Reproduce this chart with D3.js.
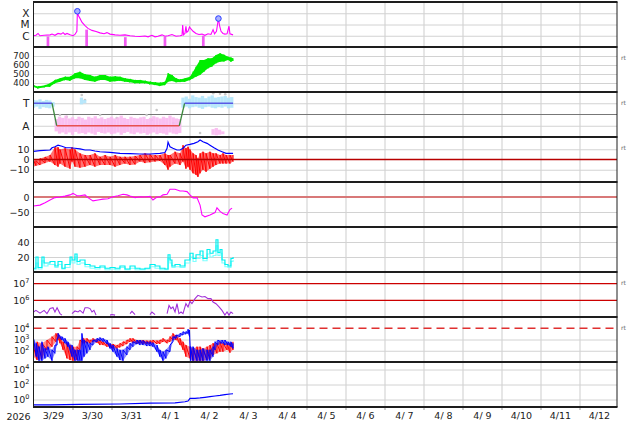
<!DOCTYPE html>
<html><head><meta charset="utf-8">
<script src="https://cdn.jsdelivr.net/npm/d3@7"></script>
<style>
html,body{margin:0;padding:0;background:#fff;}
svg{display:block;font-family:"DejaVu Sans",sans-serif;}
text{white-space:pre;}
</style></head><body>
<svg id="c" width="634" height="424"></svg>
<script>
// ---------- time axis ----------
const dayStartHours = [24,48,72,96,120,144,168,192,216,240,264,288,312,336];
const dayLabels = ["3/29","3/30","3/31","4/ 1","4/ 2","4/ 3","4/ 4","4/ 5","4/ 6","4/ 7","4/ 8","4/ 9","4/10","4/11","4/12"];
const yearLabel = "2026";

// ---------- panel 1 : X-ray flux ----------
const xrayHours = [0,1.5,2.8,4,6.5,10.2,11.4,13.2,15.1,16.9,18.2,19.4,20.6,22.5,24.3,25.5,26.7,27,27.7,28.6,29.8,31.7,33.5,36,38.5,40.9,43.4,45.2,47.1,50.2,53.2,56.3,59.4,62.5,65.5,68.6,70.5,72.9,74.8,76.6,79.1,80.9,82.8,85.2,87.7,90.2,91.4,91.8,92.3,93.2,93.8,94.3,95.1,96,96.9,98.2,100,101.8,103.7,105.5,107.4,109.2,110.5,111.4,112.6,113.8,114.5,115.4,116.6,117.8,119.1,120.3,120.9,122.8];
const xrayFlux = [1.0e-6,1.1e-6,1.6e-6,1.0e-6,1.1e-6,1.2e-6,1.4e-6,1.1e-6,1.6e-6,1.4e-6,1.9e-6,1.3e-6,1.6e-6,1.2e-6,1.0e-6,1.3e-6,2.5e-6,1.5e-4,6e-5,3.5e-5,1.6e-5,8e-6,4.5e-6,3e-6,2.4e-6,1.8e-6,1.5e-6,1.9e-6,1.4e-6,1.2e-6,1.1e-6,1.2e-6,1.0e-6,9e-7,8.5e-7,9.5e-7,8e-7,1.1e-6,8e-7,9e-7,1.2e-6,9e-7,1.0e-6,1.3e-6,9e-7,1.0e-6,1.1e-6,9e-6,1.2e-6,1.6e-6,7e-6,2e-6,2.5e-6,6e-6,4e-6,2.5e-6,1.6e-6,1.3e-6,1.4e-6,1.1e-6,1.5e-6,1.3e-6,3.5e-6,1.5e-6,2.5e-6,3.4e-5,8e-6,2.5e-6,1.6e-6,1.4e-6,1.5e-6,7e-6,1.5e-6,1.2e-6];
const xrayDropHours = [8.9,32.7,56.5,80.9,104.5];
const xrayDropTop = [8.6e-7,3.5e-6,7.5e-7,8e-7,1.0e-6];
const flareHours = [27,113.8];
const flareFlux = [1.5e-4,3.4e-5];
const xrayTickVals = [1e-4,1e-5,1e-6];
const xrayTickLabels = ["X","M","C"];

// ---------- panel 2 : solar wind speed ----------
const swHours = [0,2.8,7.1,10.2,13.2,16.3,19.4,22.5,25.5,28.6,31.7,34.8,37.8,40.9,44,47.1,50.2,53.2,56.3,59.4,62.5,65.5,68.6,71.7,74.8,77.8,80.9,82.8,85.2,87.7,90.2,93.2,96.3,98.2,100,102.5,104.9,107.4,109.8,112.3,114.8,117.2,119.7,121.5,122.8];
const swLo = [355,340,355,360,397,415,433,425,452,452,433,422,415,433,433,415,420,425,415,408,397,397,397,385,378,367,378,415,422,408,410,415,433,452,470,489,525,563,582,619,637,640,655,637,648];
const swHi = [375,360,375,397,433,452,470,470,508,525,497,489,470,489,489,470,475,470,452,445,433,433,425,415,408,403,415,508,489,452,440,452,470,525,580,655,655,674,674,711,730,715,692,683,674];
const swTicks = [400,500,600,700];

// ---------- panel 3 : IMF sector ----------
const sectorBinHours = [0,2,4,6,8,10,12,14,16,18,20,22,24,26,28,30,32,34,36,38,40,42,44,46,48,50,52,54,56,58,60,62,64,66,68,70,72,74,76,78,80,82,84,86,88,90,92,94,96,98,100,102,104,106,108,110,112,114,116,118,120,122];
const sectorLo = [0.6,0.7,0.5,0.65,0.6,0.55,0.7,-1.5,-1.7,-1.6,-1.75,-1.6,-1.8,-1.55,-1.7,-1.65,-1.75,-1.6,-1.7,-1.8,-1.55,-1.65,-1.7,-1.6,-1.75,-1.7,-1.6,-1.8,-1.65,-1.55,-1.7,-1.75,-1.6,-1.7,-1.65,-1.8,-1.7,-1.6,-1.75,-1.65,-1.7,-1.8,-1.6,-1.7,-1.75,-1.65,0.6,0.7,0.55,0.65,0.7,0.6,0.5,0.65,0.7,0.6,0.55,0.65,0.6,0.7,0.55,0.6];
const sectorHi = [1.3,1.25,1.35,1.2,1.3,1.25,1.1,-0.4,-0.2,-0.3,-0.1,-0.35,-0.25,-0.4,-0.2,-0.3,-0.45,-0.2,-0.3,-0.15,-0.35,-0.25,-0.4,-0.3,-0.2,-0.35,-0.25,-0.1,-0.3,-0.4,-0.2,-0.3,-0.35,-0.25,-0.2,-0.4,-0.3,-0.15,-0.25,-0.35,-0.2,-0.3,-0.1,-0.25,-0.35,-0.4,1.5,1.6,1.4,1.7,1.55,1.5,1.65,1.45,1.6,1.7,1.5,1.55,1.6,1.65,1.5,1.55];
const awayExtraHours = [110.5,112.5,114.5,116.5];
const awayExtraLo = [-1.8,-1.85,-1.8,-1.75];
const awayExtraHi = [-1.3,-1.2,-1.35,-1.5];
const towardExtraHours = [29.5,31.5];
const towardExtraLo = [0.9,1.0];
const towardExtraHi = [1.5,1.3];
const grayHours = [16.3,20.4,26.6,29.7,31.7,41,51.2,69.6,72.7,75.8,86,102.5,110.6,114.8,118];
const grayVals = [-0.04,-0.2,-0.49,1.73,1.29,-0.04,-0.31,-0.04,-0.49,0.4,-0.76,-1.64,1.9,1.85,1.8];
const sectorLineHours = [0,11.4,14.3,89.7,93,122.8];
const sectorLineVals = [1,1,-1,-1,1,1];
const sectorTickVals = [1,-1];
const sectorTickLabels = ["T","A"];

// ---------- panel 4 : IMF Bt / Bz ----------
const btHours = [0,4,10.2,11.4,13.2,15.1,17.5,20,22.5,25.5,28.6,31.7,34.8,37.8,40.9,47.1,53.2,59.4,65.5,71.7,77.8,80.9,82.2,82.8,84,85.8,88.3,90.2,92,93.8,96.3,98.8,101.2,102.5,104.3,106.8,108.6,111.1,113.5,116,118.5,120.9,122.8];
const btVals = [8,8.6,9.3,11.5,12.5,14,13,11.5,11.5,11,10.3,9.3,9.3,8.3,7.6,7,6,5.7,5.4,5.4,6,6.8,11,17,12.5,11,9.3,9.3,11,14,14.8,15.8,17.4,19,17.4,15.8,14,11.5,9.3,7.6,6,6,6];
const bzHours = [0,1.5,4,7.1,10.2,13.2,15.1,16.3,19.4,22.5,23.7,25.5,28.6,31.7,34.8,37.8,40.9,44,47.1,50.2,53.2,56.3,59.4,62.5,65.5,68.6,71.7,74.8,77.8,80.9,82.8,84,87.1,90.2,92,93.8,95.1,96.3,98.2,100,101.2,102.5,104.3,106.2,108.6,110.5,112.3,114.8,116.6,118.5,120.9,122.8];
const bzLo = [-7,-6,-5.4,-3.5,-2,-5.4,-7,-4,-7,-9,-2,-7,-8,-7,-5.4,-7,-5.4,-5.4,-5.4,-7,-5.4,-4,-5.4,-4.8,-2,-3.5,-2.7,-2,-1.4,-5.4,-10,-7,-4,-5.4,-2,-9,-7,-10,-13.5,-15,-17,-13.5,-10,-12,-9,-7,-5.4,-4,-4,-4,-4,-2];
const bzHi = [-0.5,-1,1,2.5,4.4,12,12,9.8,11,9.8,12,9.8,6,4.4,4.4,6,2.7,4.4,2.7,4.4,2.7,2.7,2.7,3.5,4.4,6,5,4.4,4.4,6,4.4,4.4,7.6,6,14,11,12.5,9.8,6,4.4,1,6,7.6,6,7.6,6,6,4.4,6,4.4,4.4,4.4];
const imfTicks = [10,0,-10];

// ---------- panel 5 : Dst ----------
const dstHours = [0,4,7.1,10.2,13.2,16.3,19.4,22.5,24.3,26.8,28.6,31.7,33.5,36.6,39.7,42.8,45.8,48.9,52,55.1,57.5,59.4,62.5,65.5,68.6,71.7,73.5,76,77.8,79.7,82.2,84,87.1,90.2,92,94.5,96.3,98.2,100.6,102.5,103.7,105.5,108.6,111.7,112.9,114.8,116.6,119.1,120.9,122.2];
const dstVals = [-30,-27,-19,-10,-2,0,3,7,12,4,4,7,-2,-13,-10,-7,-6,1,4,9,7,3,-2,1,0,2,-10,0,0,7,9,26,26,20,20,18,7,-3,-2,-27,-60,-66,-60,-52,-36,-48,-55,-60,-42,-37];
const dstTicks = [0,-50];

// ---------- panel 6 : cyan index ----------
const cyanHours = [0,1.5,2.8,5.2,6.5,8.9,10.2,13.2,15.1,17.5,19.4,22.5,23.7,25.5,26.8,28.6,31.7,34.8,37.8,40.9,44,47.1,50.2,53.2,56.3,59.4,62.5,65.5,68.6,71.7,74.8,77.8,80.9,82.8,84,85.2,87.1,90.2,93.2,96.3,98.2,100,102.5,104.3,106.8,108.6,110.5,112.3,113.5,114.8,116,117.8,119.7,121.5,122.8];
const cyanA = [5,20,6,20,12,12,14,8,14,5,10,20,16,24,14,16,10,8,6,8,5,6,5,8,4,8,5,4,5,10,8,5,4,23,16,8,10,8,16,25,18,23,28,18,30,25,28,43,26,30,16,10,8,18,20];
const cyanB = [3,12,4,15,8,10,10,6,10,4,6,15,12,20,10,12,7,5,4,6,3,4,3,6,3,5,3,3,4,7,5,3,3,18,12,6,7,6,12,20,14,18,22,15,24,20,22,35,22,25,12,7,6,14,16];
const cyanTicks = [20,40];

// ---------- panel 7 : purple flux ----------
const p7Hours = [0,1.5,4,6.5,8.3,10.2,12,13.2,14.5,16.3,17.5,20,23.7,25.5,27.4,28.6,30.5,31.7,33.5,34.8,36,37.2,38.5,43,47.1,48.3,50.2,55,59.4,60.6,62.5,67,71.7,72.9,74.8,79,82.2,83.4,84.6,85.8,87.1,88.3,89.5,90.8,92,93.8,95.1,96.3,97.5,99.4,101.2,103.7,105.5,107.4,109.2,110.5,112.3,114.2,116,117.8,119.1,120.3,121.5,122.8];
const p7Vals = [2.0e5,2.5e5,1.7e5,2.5e5,1.6e5,3.2e5,3.6e5,2.0e5,3.6e5,1.6e5,1.3e5,null,1.6e5,2.3e5,2.0e5,2.5e5,1.7e5,3.6e5,3.6e5,3.2e5,2.0e5,2.5e5,1.3e5,null,1.3e5,1.4e5,1.3e5,null,1.6e5,2.2e5,1.4e5,null,1.4e5,2.0e5,1.4e5,null,1.6e5,5.0e5,3.2e5,4.0e5,2.0e5,6.3e5,1.6e5,2.0e5,1.6e5,6.3e5,4.0e5,8.7e5,6.3e5,1.26e6,2.0e6,1.6e6,1.7e6,1.26e6,1.26e6,7.9e5,6.3e5,4.0e5,2.5e5,1.3e5,2.0e5,1.3e5,2.0e5,1.6e5];
const p7Thresholds = [1e7,1e6];
const p7Ticks = [1e7,1e6];

// ---------- panel 8 : red / blue flux ----------
const e8RedHours = [0,2.2,5.2,8.3,11.4,13.8,15.1,16.3,18.2,20.6,22.5,24.3,26.8,28.6,30.5,32.9,34.8,36.6,39.1,40.9,42.8,45.2,47.1,48.9,51.4,53.2,55.1,57.5,59.4,61.2,63.7,65.5,67.4,69.8,71.7,73.5,76,77.8,79.7,82.2,84,85.8,87.7,90.2,92,93.8,96.3,98.2,100.6,102.5,104.3,106.8,108.6,110.5,112.9,114.8,116.6,119.1,120.9,122.8];
const e8RedHi = [230,630,460,900,1800,3500,3500,1800,630,460,320,230,230,900,1260,1260,900,1260,1000,900,630,520,400,400,320,460,630,900,1260,1260,900,900,900,800,800,900,800,900,1260,900,1800,3500,2500,1260,630,320,230,160,230,230,160,230,320,460,460,630,460,460,460,630];
const e8RedLo = [30,15,21,120,230,630,900,460,120,21,15,13,15,120,460,460,460,630,520,320,320,230,200,160,160,200,260,400,630,520,400,460,400,400,400,460,400,400,630,460,630,900,900,320,120,30,21,13,13,13,13,15,21,42,59,83,83,120,68,120];
const e8BlueHours = [0,1.7,3.4,5.2,7.1,8.9,11.4,13.2,14.5,15.1,17.5,19.4,21.2,23.7,25.5,27.4,28.6,29.8,31.1,32.9,34.8,36.6,39.1,40.9,42.8,45.2,47.1,48.9,51.4,53.2,55.1,57.5,59.4,61.2,63.7,65.5,67.4,69.8,71.7,73.5,76,77.8,79.7,81.5,84,85.8,87.7,90.2,92,93.8,95.1,96,96.6,98.2,100.6,102.5,104.3,106.8,108.6,110.5,111.7,113.5,116,117.8,119.7,121.5,122.8];
const e8BlueHi = [1260,460,230,630,160,230,120,320,1260,3500,1800,1260,630,320,120,120,120,3500,900,630,460,900,1260,1500,1260,900,460,320,160,120,120,230,460,630,900,900,800,630,630,520,320,120,83,120,320,1800,2500,3500,5000,5000,8100,7000,230,230,120,120,160,120,120,230,630,900,900,900,630,630,460];
const e8BlueLo = [320,30,13,13,21,30,13,59,320,1260,900,460,230,30,13,13,13,13,30,59,120,320,630,800,630,400,160,83,30,15,13,42,120,230,400,320,320,260,260,230,83,30,13,21,83,630,1260,1800,2500,3000,3500,1800,13,13,13,13,13,13,13,30,120,320,460,320,320,230,160];
const e8Threshold = 1e4;
const e8Ticks = [1e4,1e3,1e2];

// ---------- panel 9 : blue flux ----------
const e9Hours = [0,10.2,28.6,53.2,71.7,87.1,93.2,95.1,96.3,99.4,102.5,105.5,108.6,111.7,114.8,117.8,120.9,122.8];
const e9Vals = [0.19,0.19,0.22,0.25,0.32,0.35,0.5,0.63,1.45,1.45,1.6,1.95,2.4,2.95,3.5,4.4,5.4,5.8];
const e9Ticks = [1e4,1e2,1e0];

// =====================================================
const svg = d3.select("#c");
const X0 = 33.5, X1 = 617, TOP = 2, PH = 45, NP = 9, BOT = TOP + NP*PH;
const pTop = i => TOP + i*PH, pBot = i => TOP + (i+1)*PH;
const x = d3.scaleLinear().domain([0,360]).range([33.5,618.5]);

const ys = [
  d3.scaleLog().domain([1e-7,1e-3]).range([pBot(0),pTop(0)]),
  d3.scaleLinear().domain([300,800]).range([pBot(1),pTop(1)]),
  d3.scaleLinear().domain([-2,2]).range([pBot(2),pTop(2)]),
  d3.scaleLinear().domain([-22,22]).range([pBot(3),pTop(3)]),
  d3.scaleLinear().domain([-100,50]).range([pBot(4),pTop(4)]),
  d3.scaleLinear().domain([0,60]).range([pBot(5),pTop(5)]),
  d3.scaleLog().domain([1e5,Math.pow(10,7.7)]).range([pBot(6),pTop(6)]),
  d3.scaleLog().domain([10,1e5]).range([pBot(7),pTop(7)]),
  d3.scaleLog().domain([0.1,1e5]).range([pBot(8),pTop(8)])
];

const defs = svg.append("defs");
for (let i=0;i<NP;i++) defs.append("clipPath").attr("id","cp"+i).append("rect")
  .attr("x",X0).attr("y",pTop(i)).attr("width",X1-X0).attr("height",PH);
const layer = i => svg.append("g").attr("clip-path",`url(#cp${i})`);

// zigzag through each sample's low and high reading (noisy trace look)
const zigzag = (hours,lo,hi) => {
  const pts = [];
  hours.forEach((h,i)=>{ pts.push([h,lo[i]]); pts.push([h,hi[i]]); });
  return pts;
};
const band = (g,y,hours,lo,hi,col,op) => {
  g.append("path").datum(hours.map((h,i)=>[h,lo[i],hi[i]]))
    .attr("d",d3.area().x(d=>x(d[0])).y0(d=>y(d[1])).y1(d=>y(d[2])))
    .attr("fill",col).attr("fill-opacity",op).attr("stroke","none");
  g.append("path").datum(zigzag(hours,lo,hi))
    .attr("d",d3.line().x(d=>x(d[0])).y(d=>y(d[1])))
    .attr("fill","none").attr("stroke",col).attr("stroke-width",1);
};

// ---- vertical grid ----
svg.append("g").attr("transform",`translate(0,${BOT})`)
  .call(d3.axisBottom(x).tickValues(dayStartHours).tickSize(-(BOT-TOP)).tickFormat(""))
  .call(g=>g.select(".domain").remove())
  .selectAll("line").attr("stroke","#cdcdcd").attr("stroke-width",1);
svg.append("g").attr("transform",`translate(0,${BOT})`)
  .call(d3.axisBottom(x).tickValues(dayStartHours).tickSize(3).tickFormat(""))
  .call(g=>g.select(".domain").remove())
  .selectAll("line").attr("stroke","#999").attr("stroke-width",1);

// ---- horizontal grids ----
const gridVals = [xrayTickVals, swTicks, sectorTickVals, [10,-10], [-50], cyanTicks, [], [1e3,1e2], e9Ticks];
gridVals.forEach((gv,i)=>{
  if (!gv.length) return;
  svg.append("g").attr("transform",`translate(${X0},0)`)
    .call(d3.axisLeft(ys[i]).tickValues(gv).tickSize(-(X1-X0)).tickFormat(""))
    .call(g=>g.select(".domain").remove())
    .selectAll("line").attr("stroke","#d2d2d2").attr("stroke-width",1);
});

// ---- panel 1 ----
{
  const g = layer(0), y = ys[0];
  g.selectAll("rect.drop").data(xrayDropHours).join("rect")
    .attr("x",d=>x(d)-1.35).attr("width",2.7)
    .attr("y",(d,i)=>y(xrayDropTop[i])).attr("height",(d,i)=>pBot(0)-y(xrayDropTop[i]))
    .attr("fill","#f040f0").attr("opacity",0.85);
  g.append("path").datum(xrayHours.map((h,i)=>[h,xrayFlux[i]]))
    .attr("d",d3.line().x(d=>x(d[0])).y(d=>y(d[1])))
    .attr("fill","none").attr("stroke","#ff00ff").attr("stroke-width",1.1);
  g.selectAll("circle").data(flareHours).join("circle")
    .attr("cx",d=>x(d)).attr("cy",(d,i)=>y(flareFlux[i])).attr("r",2.8)
    .attr("fill","#a8b0ff").attr("stroke","#2a3cff").attr("stroke-width",1);
}
// ---- panel 2 ----
{
  const g = layer(1), y = ys[1];
  band(g,y,swHours,swLo,swHi,"#00ee00",1);
}
// ---- panel 3 ----
{
  const g = layer(2), y = ys[2];
  g.append("line").attr("x1",X0).attr("x2",X1).attr("y1",y(0)).attr("y2",y(0))
    .attr("stroke","#777").attr("stroke-width",1);
  const bars = (hours,lo,hi,colorFn)=>{
    g.append("g").selectAll("rect").data(hours).join("rect")
      .attr("x",d=>x(d)-1.65).attr("width",3.3)
      .attr("y",(d,i)=>y(hi[i])).attr("height",(d,i)=>y(lo[i])-y(hi[i]))
      .attr("fill",(d,i)=>colorFn(i)).attr("opacity",0.9);
  };
  g.selectAll("circle.gray").data(grayHours).join("circle")
    .attr("cx",d=>x(d)).attr("cy",(d,i)=>y(grayVals[i])).attr("r",1.3).attr("fill","#c8c8c8");
  bars(sectorBinHours,sectorLo,sectorHi,i=>sectorHi[i]>0?"#b0e4fb":"#f9b8ef");
  bars(awayExtraHours,awayExtraLo,awayExtraHi,()=>"#f9b8ef");
  bars(towardExtraHours,towardExtraLo,towardExtraHi,()=>"#b0e4fb");
  for (let i=0;i<sectorLineHours.length-1;i++){
    const a=sectorLineVals[i], b=sectorLineVals[i+1];
    const col = (a>0&&b>0)?"#5a5ae6":(a<0&&b<0)?"#e85050":"#3f8a3f";
    g.append("line").attr("x1",x(sectorLineHours[i])).attr("x2",x(sectorLineHours[i+1]))
      .attr("y1",y(a)).attr("y2",y(b)).attr("stroke",col).attr("stroke-width",1.3);
  }
}
// ---- panel 4 ----
{
  const g = layer(3), y = ys[3];
  band(g,y,bzHours,bzLo,bzHi,"#ff0000",0.55);
  g.append("path").datum(btHours.map((h,i)=>[h,btVals[i]]))
    .attr("d",d3.line().x(d=>x(d[0])).y(d=>y(d[1])))
    .attr("fill","none").attr("stroke","#0000ff").attr("stroke-width",1.2);
  g.append("line").attr("x1",X0).attr("x2",X1).attr("y1",y(0)).attr("y2",y(0))
    .attr("stroke","#b80000").attr("stroke-width",1.4);
}
// ---- panel 5 ----
{
  const g = layer(4), y = ys[4];
  g.append("line").attr("x1",X0).attr("x2",X1).attr("y1",y(0)).attr("y2",y(0))
    .attr("stroke","#d87878").attr("stroke-width",2);
  g.append("path").datum(dstHours.map((h,i)=>[h,dstVals[i]]))
    .attr("d",d3.line().x(d=>x(d[0])).y(d=>y(d[1])))
    .attr("fill","none").attr("stroke","#ff00ff").attr("stroke-width",1.1);
}
// ---- panel 6 ----
{
  const g = layer(5), y = ys[5];
  [[cyanB,"#80ffff"],[cyanA,"#00f0f0"]].forEach(([vals,col])=>{
    g.append("path").datum(cyanHours.map((h,i)=>[h,vals[i]]))
      .attr("d",d3.line().curve(d3.curveStepAfter).x(d=>x(d[0])).y(d=>y(d[1])))
      .attr("fill","none").attr("stroke",col).attr("stroke-width",1.2);
  });
}
// ---- panel 7 ----
{
  const g = layer(6), y = ys[6];
  g.selectAll("line.th").data(p7Thresholds).join("line")
    .attr("x1",X0).attr("x2",X1).attr("y1",d=>y(d)).attr("y2",d=>y(d))
    .attr("stroke","#cc0000").attr("stroke-width",1.2);
  g.append("path").datum(p7Hours.map((h,i)=>[h,p7Vals[i]]))
    .attr("d",d3.line().defined(d=>d[1]!==null).x(d=>x(d[0])).y(d=>y(d[1])))
    .attr("fill","none").attr("stroke","#a030d8").attr("stroke-width",1.1);
}
// ---- panel 8 ----
{
  const g = layer(7), y = ys[7];
  band(g,y,e8RedHours,e8RedLo,e8RedHi,"#ff0000",0.45);
  band(g,y,e8BlueHours,e8BlueLo,e8BlueHi,"#0000ff",0.45);
  g.append("line").attr("x1",X0).attr("x2",X1).attr("y1",y(e8Threshold)).attr("y2",y(e8Threshold))
    .attr("stroke","#e03030").attr("stroke-width",1.3).attr("stroke-dasharray","8,5");
}
// ---- panel 9 ----
{
  const g = layer(8), y = ys[8];
  g.append("path").datum(e9Hours.map((h,i)=>[h,e9Vals[i]]))
    .attr("d",d3.line().x(d=>x(d[0])).y(d=>y(d[1])))
    .attr("fill","none").attr("stroke","#0000ff").attr("stroke-width",1.2);
}

// ---- frame ----
for (let i=0;i<=NP;i++){
  svg.append("line").attr("x1",X0-0.5).attr("x2",X1+0.5).attr("y1",pTop(i)).attr("y2",pTop(i))
    .attr("stroke","#1e1e1e").attr("stroke-width",2.2);
}
[X0,X1].forEach(xx=>svg.append("line").attr("x1",xx).attr("x2",xx).attr("y1",TOP).attr("y2",BOT)
  .attr("stroke","#1e1e1e").attr("stroke-width",1));

// ---- y labels ----
const supFmt = v => { const e = Math.round(Math.log10(v)); return ["10", String(e)]; };
const labelSpecs = [
  {vals:xrayTickVals, fmt:(d,i)=>xrayTickLabels[i], size:10.5},
  {vals:swTicks, fmt:d=>String(d), size:8.5},
  {vals:sectorTickVals, fmt:(d,i)=>sectorTickLabels[i], size:10.5},
  {vals:imfTicks, fmt:d=>d<0?"\u2212"+(-d):String(d), size:9.5},
  {vals:dstTicks, fmt:d=>d<0?"\u2212"+(-d):String(d), size:9.5},
  {vals:cyanTicks, fmt:d=>String(d), size:9.5},
  {vals:p7Ticks, sup:true, size:9.5},
  {vals:e8Ticks, sup:true, size:9},
  {vals:e9Ticks, sup:true, size:9.5}
];
labelSpecs.forEach((s,i)=>{
  const ax = d3.axisLeft(ys[i]).tickValues(s.vals).tickSize(0).tickPadding(4)
    .tickFormat(s.sup ? (d=>"") : s.fmt);
  const g = svg.append("g").attr("transform",`translate(${X0},0)`).call(ax);
  g.select(".domain").remove();
  g.selectAll("text").attr("font-family","DejaVu Sans").attr("font-size",s.size).attr("fill","#222");
  if (s.sup){
    g.selectAll("text").each(function(d){
      const [b,e] = supFmt(d);
      const t = d3.select(this).text(null);
      t.append("tspan").text(b);
      t.append("tspan").attr("dy",-4).attr("font-size",6.5).text(e);
    });
  }
});

// ---- rt labels ----
[1,2,3,6,7].forEach(i=>{
  svg.append("text").attr("x",621).attr("y",pTop(i)+12.5).attr("font-size",6)
    .attr("fill","#666").text("rt");
});

// ---- x labels ----
const xl = svg.append("g").attr("transform",`translate(0,${BOT})`)
  .call(d3.axisBottom(x).tickValues(dayLabels.map((d,i)=>i*24+12)).tickSize(0).tickPadding(5)
    .tickFormat((d,i)=>dayLabels[i]));
xl.select(".domain").remove();
xl.selectAll("text").attr("font-family","DejaVu Sans").attr("font-size",9.5).attr("fill","#222");
svg.append("text").attr("x",18.5).attr("y",419.5).attr("text-anchor","middle")
  .attr("font-size",9.5).attr("fill","#222").text(yearLabel);
</script>
</body></html>
